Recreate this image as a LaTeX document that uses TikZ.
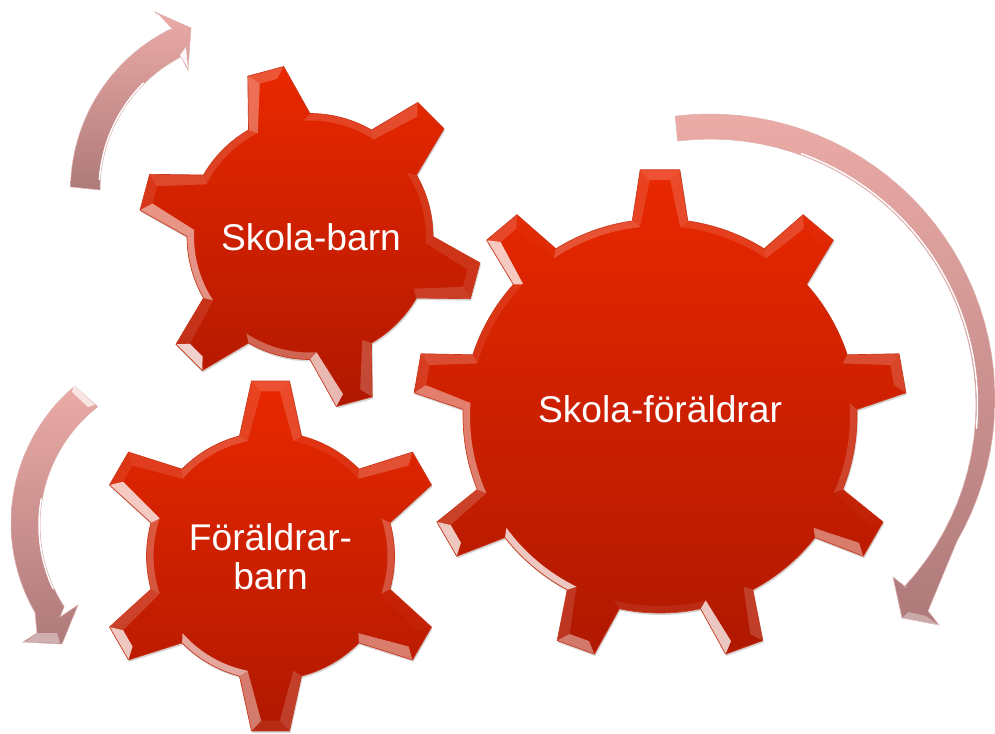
\documentclass[tikz,border=0pt]{standalone}
\usepackage{fontspec}
\setmainfont{Liberation Sans}

\definecolor{geartop}{HTML}{E92800}
\definecolor{gearbottom}{HTML}{B01800}
\definecolor{gearedge}{HTML}{C9381C}
\definecolor{arrowtop}{HTML}{EBABA7}
\definecolor{arrowbottom}{HTML}{AE7A7A}
\definecolor{arrowedge}{HTML}{DDB0AD}

\tikzset{
	gearbody/.style={top color=geartop, bottom color=gearbottom},
	gearshadow/.style={fill=black, fill opacity=0.16, shift={(1,-2)}},
	gearline/.style={draw=gearedge, line width=0.5pt},
	facet/.style={fill=white, fill opacity=#1},
	arrowbody/.style={top color=arrowtop, bottom color=arrowbottom, draw=arrowedge, line width=0.4pt},
	arrowshine/.style={draw=white, line width=1.1pt, line cap=round},
	arrowfacet/.style={fill=white, fill opacity=#1},
	gearlabel/.style={text=white, align=center, font=\fontsize{27.9}{29.5}\selectfont, inner sep=0pt}
}

% centre x, centre y, radius, tip radius, first tooth, step, base half angle, tip half angle
\newcommand{\drawgear}[8]{
	\begin{scope}[shift={(#1,#2)}, y=0.75pt]
		\pgfmathsetmacro\secondtooth{#5-#6}
		\pgfmathsetmacro\lasttooth{#5-360+#6}
		\pgfmathsetmacro\basecut{400/#3}
		\pgfmathsetmacro\tipcut{520/#4}
		\def\gearpath{(#5+#7:#3) \foreach \a in {#5,\secondtooth,...,\lasttooth} {
			-- (\a+#8:#4) -- (\a-#8:#4) -- (\a-#7:#3)
			arc[start angle=\a-#7, end angle=\a-#6+#7, radius=#3]} -- cycle}
		\path[gearshadow] \gearpath;
		\path[gearbody] \gearpath;
		% Bevel of every tooth and of the rim behind it
		\foreach \a in {#5,\secondtooth,...,\lasttooth} {
			\pgfmathsetmacro\sidea{shine(\a+80)}
			\pgfmathsetmacro\sideb{shine(\a-80)}
			\pgfmathsetmacro\tipface{shine(\a)}
			\pgfmathsetmacro\rimface{shine(\a-#6/2)}
			\fill[facet=\sidea] (\a+#7:#3) -- (\a+#8:#4) -- (\a+#8-\tipcut:#4-11) -- (\a+#7-\basecut:#3-7) -- cycle;
			\fill[facet=\tipface] (\a+#8:#4) -- (\a-#8:#4) -- (\a-#8+\tipcut:#4-11) -- (\a+#8-\tipcut:#4-11) -- cycle;
			\fill[facet=\sideb] (\a-#8:#4) -- (\a-#7:#3) -- (\a-#7+\basecut:#3-7) -- (\a-#8+\tipcut:#4-11) -- cycle;
			\fill[facet=\rimface] (\a-#7:#3) arc[start angle=\a-#7, end angle=\a-#6+#7, radius=#3]
				-- (\a-#6+#7-\basecut:#3-7) arc[start angle=\a-#6+#7-\basecut, end angle=\a-#7+\basecut, radius=#3-7] -- cycle;
		}
		\path[gearline] \gearpath;
	\end{scope}
}

\begin{document}
\begin{tikzpicture}[
		x=0.75pt,
		y=-0.75pt,
		declare function={
			shine(\n)=max(0,0.88*pow(max(0,cos(\n+140)),4)+0.28*pow(max(0,cos(\n-105)),2)+0.3*pow(max(0,cos(\n)),16)-0.07);
		}
		]
		\useasboundingbox (0,0) rectangle (995,733);
		
		% Gears
		\drawgear{660}{416}{197}{247}{90}{40}{8.1}{4.6}
		\drawgear{310}{236.5}{123}{172}{105}{60}{15}{6.2}
		\drawgear{270.5}{556}{124}{176}{90}{60}{14.5}{6.2}
		
		% Gear labels
		\node[gearlabel] (skolabarn) at (311,237) {Skola-barn};
		\node[gearlabel] (skolaforaldrar) at (660,409) {Skola-föräldrar};
		\node[gearlabel] (foraldrarbarn) at (270.5,557) {Föräldrar-\\barn};
		
		% Big arrow
		\path[arrowbody] plot[domain=97:-30, samples=40] ({710+285*cos(\x)},{399-285*sin(\x)})
			-- (928,611) -- (939,625) -- (902,618) -- (893,577) -- (907,588)
			-- plot[domain=-43:97, samples=40] ({710+266*cos(\x)},{405-266*sin(\x)}) -- cycle;
		\draw[arrowshine] plot[domain=70:-5, samples=30] ({710+267.5*cos(\x)},{405-267.5*sin(\x)});
		\fill[arrowfacet=0.35] (902,618) -- (939,625) -- (926,616) -- (908,612) -- cycle;
		
		% Top left arrow
		\path[arrowbody] plot[domain=179:116, samples=30] ({250+179.5*cos(\x)},{190-179.5*sin(\x)})
			-- (155,12) -- (191,28) -- (188,70) -- (180,55)
			-- plot[domain=117:180, samples=30] ({250+150*cos(\x)},{190-150*sin(\x)}) -- cycle;
		\draw[arrowshine] plot[domain=176:135, samples=20] ({250+151*cos(\x)},{190-151*sin(\x)});
		\fill[arrowfacet=0.9] (157,13) -- (172,29) -- (162,29) -- cycle;
		\fill[arrowfacet=0.9] (188,68) -- (180,55) -- (186,47) -- cycle;
		
		% Left arrow
		\path[arrowbody] plot[domain=130:210, samples=30] ({190+179*cos(\x)},{523-179*sin(\x)})
			-- (37,633) -- (23,642) -- (62,644) -- (78,605) -- (60,617) -- (64,607)
			-- plot[domain=213:128, samples=30] ({190+150*cos(\x)},{525-150*sin(\x)}) -- cycle;
		\draw[arrowshine] plot[domain=205:170, samples=20] ({190+151*cos(\x)},{525-151*sin(\x)});
		\fill[arrowfacet=0.4] (25,642) -- (60,643) -- (57,633) -- (38,633) -- cycle;
		\fill[arrowfacet=0.7] (74,384) -- (95,405) -- (88,407) -- (72,392) -- cycle;
\end{tikzpicture}
\end{document}
